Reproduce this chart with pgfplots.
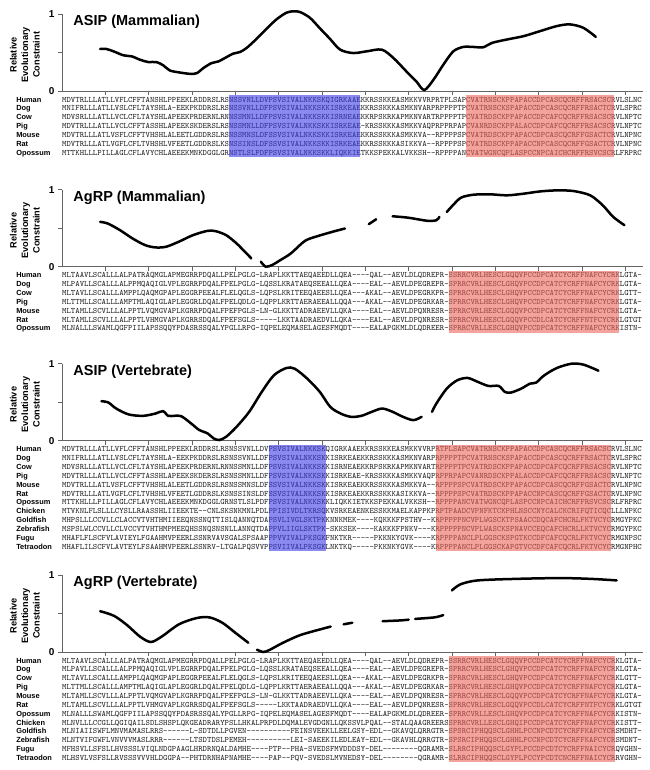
\documentclass[border=0pt]{standalone}
\usepackage{fontspec}
\setmainfont{Liberation Sans}
\usepackage{pgfplots}
\pgfplotsset{compat=1.18}

\definecolor{hlblue}{RGB}{60,60,230}
\definecolor{hlred}{RGB}{237,100,90}
\definecolor{axgray}{RGB}{100,100,100}

\newcommand\seqfont{\ttfamily\fontsize{8.27}{9}\selectfont}
\newcommand\namefont{\bfseries\fontsize{7.4}{8}\selectfont}

% one alignment row: index, species, sequence
\newcommand\seqrow[3]{%
  \node[anchor=base west,inner sep=0pt,font=\namefont,yshift={-11.1pt-8.85pt*#1}] at (axis cs:-10.6,0) {#2};
  \node[anchor=base west,inner sep=0pt,font=\seqfont,text=black!85,yshift={-11.1pt-8.85pt*#1}] at (axis cs:0,0) {#3};}
% highlight box: colour, x from, x to, y bottom
\newcommand\hl[4]{\addplot[draw=none,fill=#1,fill opacity=0.6] coordinates {(#2,-0.053) (#3,-0.053) (#3,#4) (#2,#4)};}
\newcommand\paneltitle[1]{\node[anchor=base west,inner sep=0pt,font=\bfseries\fontsize{14.5}{16}\selectfont] at (axis cs:2.6,0.85) {#1};
  \node[rotate=90,align=center,font=\bfseries\fontsize{9.2}{11.5}\selectfont] at (axis cs:-8.6,0.47) {Relative\\Evolutionary\\Constraint};}

\pgfplotsset{
  panel/.style={
    at={(62pt,-#1pt)}, anchor=south west,
    x=4.333pt, y=77pt, xmin=0, xmax=134, ymin=0, ymax=1,
    axis lines*=left, clip=false,
    axis line style={axgray,line width=0.8pt},
    tick style={axgray,line width=0.8pt},
    tick align=outside, major tick length=4pt,
    xtick={10,20,...,130}, xticklabels={},
    ytick={0,0.5,1}, yticklabels={0,,1},
    yticklabel style={font=\bfseries\fontsize{10}{10}\selectfont},
  },
  curve/.style={black,line width=2.5pt,smooth,line cap=round,no markers},
}

\begin{document}
\begin{tikzpicture}
\path[use as bounding box] (0,0) rectangle (649pt,-770pt);

% ---------- ASIP (Mammalian)
\begin{axis}[panel=91]
\paneltitle{ASIP (Mammalian)}
\seqrow{0}{Human}{MDVTRLLLATLLVFLCFFTANSHLPPEEKLRDDRSLRSNSSVNLLDVPSVSIVALNKKSKQIGRKAAEKKRSSKKEASMKKVVRPRTPLSAPCVATRNSCKPPAPACCDPCASCQCRFFRSACSCRVLSLNC}
\seqrow{1}{Dog}{MNIFRLLLATLLVSLCFLTAYSHLA-EEKPKDDRSLRSNSSVNLLDFPSVSIVALNKKSKKISRKEAEKKRSSKKKASMKNVARPRPPPPTPCVATRNSCKSPAPACCDPCASCQCRFFRSACTCRVLSPRC}
\seqrow{2}{Cow}{MDVSRLLLATLLVCLCFLTAYSHLAPEEKPRDERNLRNNSSMNLLDFPSVSIVALNKKSKKISRNEAEKKRPSKRKAPMKNVARTRPPPPTPCVATRDSCKPPAPACCDPCAFCQCRFFRSACSCRVLNPTC}
\seqrow{3}{Pig}{MDVTRLLLATLLVCLCFFTASSHLAPEEKSKDERSLRSNSSMNLLDFPSVSIVALNKKSKKISRKEAE-KRSSKKKASMKKVAQPRPPRPAPCVANRDSCKPPALACCDPCAFCQCRFFRSACSCRVLNPTC}
\seqrow{4}{Mouse}{MDVTRLLLATLVSFLCFFTVHSHLALEETLGDDRSLRSNSSMNSLDFSSVSIVALNKKSKKISRKEAEKKRSSKKKASMKKVA--RPPPPSPCVATRDSCKPPAPACCDPCASCQCRFFGSACTCRVLNPNC}
\seqrow{5}{Rat}{MDVTRLLLATLVGFLCFLTVHSHLVFEETLGDDRSLKSNSSINSLDFSSVSIVALNKKSKKISRKEAEKKRSSKKKASIKKVA--RPPPPSPCVATRDSCKPPAPACCNPCASCQCRFFGSACTCRVLNPNC}
\seqrow{6}{Opossum}{MTTKHLLLPILLAGLCFLAVYCHLAEEEKMNKDGGLGRNSTLSLPDFPSVSIVALNKKSKKLIQKKIETKKSPEKKALVKKSH--RPPPPANCVATWGNCQPLASPCCNPCAICHCRFFRSVCSCRLFRPRC}
\hl{hlblue}{38.5}{68.8}{-0.857}
\hl{hlred}{93.2}{127.4}{-0.857}
\addplot[curve] coordinates {
(8.8,0.546) (10.2,0.546) (11.9,0.515) (14.2,0.463) (16.1,0.45) (18,0.406) (19.9,0.376)
(21.8,0.376) (23.4,0.332) (24.9,0.266) (27.2,0.24) (29.5,0.223) (31.1,0.231) (32.6,0.297)
(34.5,0.362) (36.1,0.384) (38,0.441) (39.5,0.485) (41.1,0.507) (42.6,0.559) (44.9,0.677)
(47.2,0.808) (49.5,0.93) (51.8,1.017) (53.4,1.035) (54.9,1.026) (57.2,0.952) (59.5,0.815)
(61.8,0.68) (64.2,0.537) (67.2,0.493) (70.3,0.515) (73.8,0.537) (76.5,0.428) (79.5,0.253)
(81.8,0.122) (83.6,0.013) (85.7,0.144) (88,0.341) (90.3,0.515) (92.6,0.572) (94.9,0.572)
(97.2,0.568) (99.2,0.624) (102.6,0.668) (106.5,0.712) (110.3,0.777) (114.2,0.843)
(117.2,0.865) (120.3,0.821) (123.2,0.703)};
\end{axis}

% ---------- AgRP (Mammalian)
\begin{axis}[panel=266.7]
\paneltitle{AgRP (Mammalian)}
\seqrow{0}{Human}{MLTAAVLSCALLLALPATRAQMGLAPMEGRRPDQALLPELPGLG-LRAPLKKTTAEQAEEDLLQEA----QAL--AEVLDLQDREPR-SSRRCVRLHESCLGQQVPCCDPCATCYCRFFNAFCYCRKLGTA-}
\seqrow{1}{Dog}{MLPAVLLSCALLLALPPMQAQIGLVPLEGRRPDQALFPELPGLG-LQSSLKRATAEQSEEALLQEA----EAL--AEVLDPEGREPR-SPRRCVRLHESCLGHQVPCCDPCATCYCRFFNAFCYCRKLGTA-}
\seqrow{2}{Cow}{MLTAVLLSCALLLAMPPLQAQMGPAPLEGGRPEEALFLELQGLS-LQPSLKRITEEQAEESLLQEA---AKAL--AEVLDPEGRKPR-SPRRCVRLHESCLGHQVPCCDPCATCYCRFFNAFCYCRKLGTT-}
\seqrow{3}{Pig}{MLTTMLLSCALLLAMPTMLAQIGLAPLEGGRLDQALFPELQDLG-LQPPLKRTTAERAEEALLQQA---AKAL--AEVLDPEGRKAR-SPRRCVRLHESCLGHQVPCCDPCATCYCRFFNAFCYCRKLGTA-}
\seqrow{4}{Mouse}{MLTAMLLSCVLLLALPPTLVQMGVAPLKGRRPDQALFPEFPGLS-LN-GLKKTTADRAEEVLLQKA----EAL--AEVLDPQNRESR-SPRRCVRLHESCLGQQVPCCDPCATCYCRFFNAFCYCRKLGTA-}
\seqrow{5}{Rat}{MLTAMLLSCVLLLALPPTLVHMGVAPLKGRRSDQALFPEFSGLS-----LKKTAADRAEDVLLQKA----EAL--AEVLDPQNRESR-SPRRCVRLHESCLGQQVPCCDLCATCYCRFFNTFCYCRKLGTGT}
\seqrow{6}{Opossum}{MLNALLLSWAMLQGFPIILAPSSQQYPDASRSSQALYPGLLRPG-IQPELEQMASELAGESFMQDT----EALAPGKMLDLQDREER-SPRRCVRLLESCLGHQVPCCDPCATCYCRFFNAFCYCRKISTN-}
\hl{hlred}{89.2}{128.6}{-0.857}
\addplot[curve] coordinates {(8.8,0.582) (10.6,0.56) (13.4,0.474) (16.3,0.366) (19.2,0.28) (21.6,0.25)
(24,0.259) (26.9,0.323) (30.2,0.409) (33.6,0.466) (35.5,0.461) (37.9,0.409) (40.3,0.302)
(42.2,0.194) (43.7,0.108)};
\addplot[curve] coordinates {(45.9,0.065) (47,0.0) (48.5,0.022) (50.4,0.086) (52.8,0.172)
(56.1,0.336) (59,0.397) (62.4,0.453) (65.3,0.496)};
\addplot[curve] coordinates {(70.8,0.552) (72.5,0.616)};
\addplot[curve] coordinates {(76.3,0.655) (79.7,0.638) (82.5,0.612) (84.5,0.595) (86.4,0.603) (87.1,0.647)};
\addplot[curve] coordinates {(88.8,0.711) (90.2,0.797) (92.1,0.897) (95,0.935) (98.8,0.94)
(102.7,0.927) (106.5,0.948) (110.4,0.978) (114.2,0.991) (118,0.983) (121.9,0.927)
(124.8,0.797) (127.2,0.647) (129.8,0.539)};
\end{axis}

% ---------- ASIP (Vertebrate)
\begin{axis}[panel=440.7]
\paneltitle{ASIP (Vertebrate)}
\seqrow{0}{Human}{MDVTRLLLATLLVFLCFFTANSHLPPEEKLRDDRSLRSNSSVNLLDVPSVSIVALNKKSKQIGRKAAEKKRSSKKEASMKKVVRPRTPLSAPCVATRNSCKPPAPACCDPCASCQCRFFRSACSCRVLSLNC}
\seqrow{1}{Dog}{MNIFRLLLATLLVSLCFLTAYSHLA-EEKPKDDRSLRSNSSVNLLDFPSVSIVALNKKSKKISRKEAEKKRSSKKKASMKNVARPRPPPPTPCVATRNSCKSPAPACCDPCASCQCRFFRSACTCRVLSPRC}
\seqrow{2}{Cow}{MDVSRLLLATLLVCLCFLTAYSHLAPEEKPRDERNLRNNSSMNLLDFPSVSIVALNKKSKKISRNEAEKKRPSKRKAPMKNVARTRPPPPTPCVATRDSCKPPAPACCDPCAFCQCRFFRSACSCRVLNPTC}
\seqrow{3}{Pig}{MDVTRLLLATLLVCLCFFTASSHLAPEEKSKDERSLRSNSSMNLLDFPSVSIVALNKKSKKISRKEAE-KRSSKKKASMKKVAQPRPPRPAPCVANRDSCKPPALACCDPCAFCQCRFFRSACSCRVLNPTC}
\seqrow{4}{Mouse}{MDVTRLLLATLVSFLCFFTVHSHLALEETLGDDRSLRSNSSMNSLDFSSVSIVALNKKSKKISRKEAEKKRSSKKKASMKKVA--RPPPPSPCVATRDSCKPPAPACCDPCASCQCRFFGSACTCRVLNPNC}
\seqrow{5}{Rat}{MDVTRLLLATLVGFLCFLTVHSHLVFEETLGDDRSLKSNSSINSLDFSSVSIVALNKKSKKISRKEAEKKRSSKKKASIKKVA--RPPPPSPCVATRDSCKPPAPACCNPCASCQCRFFGSACTCRVLNPNC}
\seqrow{6}{Opossum}{MTTKHLLLPILLAGLCFLAVYCHLAEEEKMNKDGGLGRNSTLSLPDFPSVSIVALNKKSKKLIQKKIETKKSPEKKALVKKSH--RPPPPANCVATWGNCQPLASPCCNPCAICHCRFFRSVCSCRLFRPRC}
\seqrow{7}{Chicken}{MTVKNLFLSLLLCYSLLRAASSHLIIEEKTE--CNLSKSNKMNLPDLPPISIVDLTKRSQKVSRKEAENKESSKKMAELKAPPKPRPTPAADCVPNFKTCKPHLNSCCNYCALCKCRIFQTICQCLLLNPKC}
\seqrow{8}{Goldfish}{MHPSLLLCCVLLCLACCVTVHTHMIIEEQNSSNQTTISLQANNQTDAPSVLIVGLSKTPKKNNKMEK----KQKKKFPSTHV--KRPPPPPNCVPLWGSCKTPSAACCDQCAFCHCRLFKTVCYCRMGYPKC}
\seqrow{9}{Zebrafish}{MSPSLWLCCVLLCLVCCVTVHTHMPMEEQHSSNQSNSNLLANNQTDAPPVLIIGLSKTPK-SKKSEK----KAKKKFPNKV---KRPPPPPNCVPLWASCKSPNAVCCEQCAFCHCRLLKTVCYCRMGYPKC}
\seqrow{10}{Fugu}{MHAFLFLSCFVLAVIEYLFGAAHMVPEERLSSNRVAVSGALSPSAAPPPVVIVALPKSGKFNKTKR-----PKKNKYGVK----KRPPPPANCLPLGGSCKSPGTKCCDFCAFCQCRLFKTVCYCRMGNPSC}
\seqrow{11}{Tetraodon}{MHAFLILSCFVLAVTEYLFSAAHMVPEERLSSNRV-LTGALPQSVVPPSVIIVALPKSGKLNKTKQ-----PKKNKYGVK----KRPPPPANCLPLGGSCKAPGTVCCDFCAFCQCRLFKTVCYCRMGNPHC}
\hl{hlblue}{47.8}{60.9}{-1.432}
\hl{hlred}{86.2}{126.6}{-1.432}
\addplot[curve] coordinates {(9.1,0.513) (10.7,0.496) (12.5,0.418) (15.4,0.341) (18.7,0.323) (21.6,0.353)
(23.3,0.384) (24.5,0.323) (25.9,0.323) (27.5,0.319) (29.8,0.224) (31.7,0.138) (33.6,0.095)
(35,0.03) (36.3,0.009) (37.9,0.052) (40.3,0.181) (43.2,0.375) (46.1,0.634) (48.9,0.849)
(51.8,0.944) (53.7,0.935) (56.6,0.806) (59.5,0.634) (61.9,0.44) (64.3,0.353) (66.7,0.31)
(69.1,0.323) (71.5,0.375) (73.9,0.418) (76.3,0.375) (78.7,0.31) (81.1,0.267) (83,0.31)};
\addplot[curve] coordinates {(85.4,0.375) (86.4,0.483) (88.8,0.677) (91.2,0.784) (93.6,0.815) (96,0.763)
(98.4,0.711) (100.8,0.711) (102.2,0.634) (103.6,0.625) (106,0.677) (108,0.741) (109.4,0.754)
(111.3,0.849) (114.2,0.944) (117.6,1.0) (120.4,0.987) (123.8,0.909)};
\end{axis}

% ---------- AgRP (Vertebrate)
\begin{axis}[panel=652]
\paneltitle{AgRP (Vertebrate)}
\seqrow{0}{Human}{MLTAAVLSCALLLALPATRAQMGLAPMEGRRPDQALLPELPGLG-LRAPLKKTTAEQAEEDLLQEA----QAL--AEVLDLQDREPR-SSRRCVRLHESCLGQQVPCCDPCATCYCRFFNAFCYCRKLGTA-}
\seqrow{1}{Dog}{MLPAVLLSCALLLALPPMQAQIGLVPLEGRRPDQALFPELPGLG-LQSSLKRATAEQSEEALLQEA----EAL--AEVLDPEGREPR-SPRRCVRLHESCLGHQVPCCDPCATCYCRFFNAFCYCRKLGTA-}
\seqrow{2}{Cow}{MLTAVLLSCALLLAMPPLQAQMGPAPLEGGRPEEALFLELQGLS-LQPSLKRITEEQAEESLLQEA---AKAL--AEVLDPEGRKPR-SPRRCVRLHESCLGHQVPCCDPCATCYCRFFNAFCYCRKLGTT-}
\seqrow{3}{Pig}{MLTTMLLSCALLLAMPTMLAQIGLAPLEGGRLDQALFPELQDLG-LQPPLKRTTAERAEEALLQQA---AKAL--AEVLDPEGRKAR-SPRRCVRLHESCLGHQVPCCDPCATCYCRFFNAFCYCRKLGTA-}
\seqrow{4}{Mouse}{MLTAMLLSCVLLLALPPTLVQMGVAPLKGRRPDQALFPEFPGLS-LN-GLKKTTADRAEEVLLQKA----EAL--AEVLDPQNRESR-SPRRCVRLHESCLGQQVPCCDPCATCYCRFFNAFCYCRKLGTA-}
\seqrow{5}{Rat}{MLTAMLLSCVLLLALPPTLVHMGVAPLKGRRSDQALFPEFSGLS-----LKKTAADRAEDVLLQKA----EAL--AEVLDPQNRESR-SPRRCVRLHESCLGQQVPCCDLCATCYCRFFNTFCYCRKLGTGT}
\seqrow{6}{Opossum}{MLNALLLSWAMLQGFPIILAPSSQQYPDASRSSQALYPGLLRPG-IQPELEQMASELAGESFMQDT----EALAPGKMLDLQDREER-SPRRCVRLLESCLGHQVPCCDPCATCYCRFFNAFCYCRKISTN-}
\seqrow{7}{Chicken}{MLNVLLLCCGLLQGIQAILSDLSHSPLQKGEADRARYPSLLHKALPRPDLDQMALEVGDGNLLQKSSVLPQAL--STALQAAGREERSSPRRCVRLLESCLGHQIPCCDPCATCYCRFFNAFCYCRKISTT-}
\seqrow{8}{Goldfish}{MLNIAIISWFLMNVMAMASLRRS------L-SDTDLLPGVEN----------FEINSVEEKLLEELGSY-EDL--GKAVQLQRRGTR-SPSRCIPHQQSCLGHHLPCCNPCDTCYCRFFKAFCYCRSMDHT-}
\seqrow{9}{Zebrafish}{MLNTVIFGWFLVNVVVMASLRRR------LTSDTDSLPEMEH----------LEI-SAEEKILEDLEAY-EDL--GKAVHLQRRGTR-SPSRCIPHQQSCLGHHLPCCNPCDTCYCRFFKAFCYCRSMDNT-}
\seqrow{10}{Fugu}{MFHSVLLSFSLLHVSSSLVIQLNDGPAAGLHRDRNQALDAMHE----PTP--PHA-SVEDSFMVDDDSY-DEL--------QGRAMR-SLRRCIPHQQSCLGYPLPCCDPCDTCYCRFFNAICYCRQVGHN-}
\seqrow{11}{Tetraodon}{MLHSVLVSFSLLRVSSSVVVHLDGGPA--PHTDRNHAPNAMHE----PAP--PQV-SVEDSLMVNEDSY-DEL--------QGRAMR-SLRRCIPHQQSCLGYPLPCCYPCDTCNCRFFNAICYCRRVGHN-}
\hl{hlred}{89.3}{127.6}{-1.432}
\addplot[curve] coordinates {(8.8,0.53) (12,0.47) (15,0.35) (18,0.2) (20.5,0.13) (23,0.2) (27,0.36)
(31,0.44) (34,0.45) (37,0.38) (40,0.25) (43,0.12)};
\addplot[curve] coordinates {(45,0.03) (46.5,0.0) (48,0.03) (51,0.12) (55,0.22) (60,0.3) (62,0.33)};
\addplot[curve] coordinates {(65,0.36) (67,0.38)};
\addplot[curve] coordinates {(74,0.4) (78,0.41) (80,0.42)};
\addplot[curve] coordinates {(81.5,0.43) (86,0.45) (88,0.48)};
\addplot[curve] coordinates {(90,0.8) (92,0.88) (96,0.93) (105,0.95) (115,0.96) (122,0.95) (128,0.93)};
\end{axis}
\end{tikzpicture}
\end{document}
